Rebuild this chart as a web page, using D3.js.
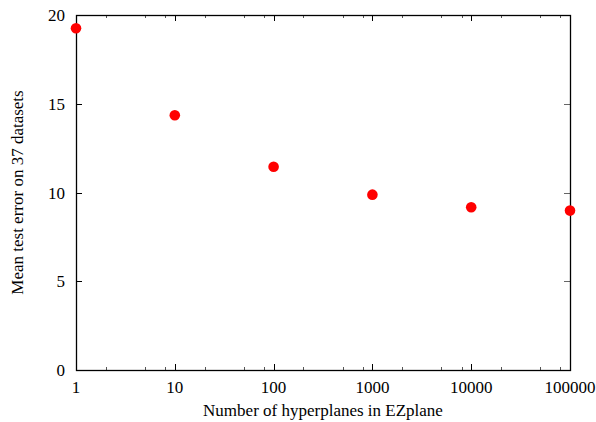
<!DOCTYPE html>
<html><head><meta charset="utf-8">
<script src="https://cdn.jsdelivr.net/npm/d3@7"></script>
<style>body{margin:0;background:#fff;overflow:hidden}text{font-family:"Liberation Serif","Times New Roman",serif;font-size:17px;fill:#000}</style>
</head><body>
<script>
const hyperplanes = [1, 10, 100, 1000, 10000, 100000];
const meanError = [19.25, 14.35, 11.45, 9.88, 9.17, 8.98];
const xTickValues = [1, 10, 100, 1000, 10000, 100000];
const yTickValues = [0, 5, 10, 15, 20];
const xLabel = "Number of hyperplanes in EZplane";
const yLabel = "Mean test error on 37 datasets";

const W = 596, H = 422;
const L = 76, R = 570, T = 15, B = 370;
const svg = d3.select("body").append("svg").attr("width", W).attr("height", H).style("display", "block");
const x = d3.scaleLog().domain([1, 100000]).range([L, R]);
const y = d3.scaleLinear().domain([0, 20]).range([B, T]);

const minor = [];
for (let d = 1; d < 100000; d *= 10) [2, 5, 8].forEach(m => minor.push(d * m));

const g = svg.append("g");
g.selectAll(".xt").data(xTickValues).join("line")
  .attr("x1", d => Math.round(x(d)) + 0.5).attr("x2", d => Math.round(x(d)) + 0.5)
  .attr("y1", B).attr("y2", B - 6).attr("stroke", "#000");
g.selectAll(".xtt").data(xTickValues).join("line")
  .attr("x1", d => Math.round(x(d)) + 0.5).attr("x2", d => Math.round(x(d)) + 0.5)
  .attr("y1", T).attr("y2", T + 6).attr("stroke", "#000");
g.selectAll(".xm").data(minor).join("line")
  .attr("x1", d => Math.round(x(d)) + 0.5).attr("x2", d => Math.round(x(d)) + 0.5)
  .attr("y1", B).attr("y2", B - 3).attr("stroke", "#555");
g.selectAll(".xmt").data(minor).join("line")
  .attr("x1", d => Math.round(x(d)) + 0.5).attr("x2", d => Math.round(x(d)) + 0.5)
  .attr("y1", T).attr("y2", T + 3).attr("stroke", "#555");
g.selectAll(".yt").data(yTickValues).join("line")
  .attr("y1", d => Math.round(y(d)) + 0.5).attr("y2", d => Math.round(y(d)) + 0.5)
  .attr("x1", L).attr("x2", L + 6).attr("stroke", "#000");
g.selectAll(".ytr").data(yTickValues).join("line")
  .attr("y1", d => Math.round(y(d)) + 0.5).attr("y2", d => Math.round(y(d)) + 0.5)
  .attr("x1", R).attr("x2", R - 6).attr("stroke", "#666");

svg.append("rect").attr("x", L + 0.5).attr("y", T + 0.5).attr("width", R - L).attr("height", B - T)
  .attr("fill", "none").attr("stroke", "#000").attr("stroke-width", 1.3);

svg.selectAll(".xl").data(xTickValues).join("text")
  .attr("x", d => x(d)).attr("y", B + 23).attr("text-anchor", "middle").text(d => d);
svg.selectAll(".yl").data(yTickValues).join("text")
  .attr("x", L - 11).attr("y", d => y(d) + 6).attr("text-anchor", "end").text(d => d);
svg.append("text").attr("x", (L + R) / 2).attr("y", 416).attr("text-anchor", "middle").text(xLabel);
svg.append("text").attr("transform", `translate(23,${(T + B) / 2}) rotate(-90)`)
  .attr("text-anchor", "middle").text(yLabel);

svg.selectAll(".pt").data(hyperplanes).join("circle")
  .attr("cx", d => x(d)).attr("cy", (d, i) => y(meanError[i])).attr("r", 5.3).attr("fill", "#ff0000");
</script>
</body></html>
